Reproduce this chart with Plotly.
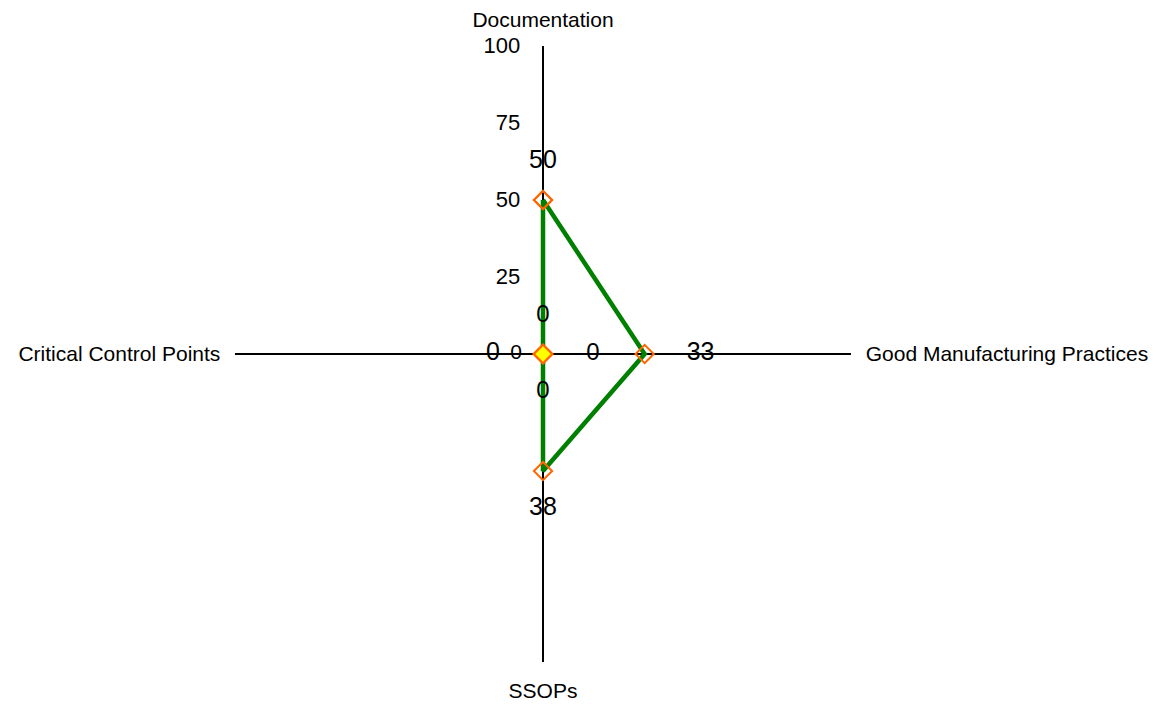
import plotly.graph_objects as go

# ---- data ----
categories = ["Documentation", "Good Manufacturing Practices", "SSOPs", "Critical Control Points"]
series_a = [50, 33, 38, 0]
series_b = [0, 0, 0, 0]
radial_ticks = [25, 50, 75, 100]

FONT = "Liberation Sans, Arial, sans-serif"
W, H = 1163, 704
CX, CY, R = 535, 346, 308          # domain centre (compensated) / radius in px
px_per_unit = R / 100.0

fig = go.Figure()

closed = lambda v: v + v[:1]
cats_closed = closed(categories)

fig.add_trace(go.Scatterpolar(
    r=closed(series_a), theta=cats_closed, mode="lines+markers",
    line=dict(color="#008000", width=4.5),
    marker=dict(symbol="diamond-open", size=14, color="#FF6600", line=dict(width=2, color="#FF6600")),
    showlegend=False, hoverinfo="skip"))

fig.add_trace(go.Scatterpolar(
    r=closed(series_b), theta=cats_closed, mode="lines+markers",
    line=dict(color="#FF6600", width=2),
    marker=dict(symbol="diamond", size=14, color="#FFFF00", line=dict(width=2, color="#FF6600")),
    showlegend=False, hoverinfo="skip"))

# data labels, placed outward from each point by a pixel offset
off_a = [38, 56, 38, 50]
off_b = [38, 50, 38, 27]
size_a = [25, 25, 25, 25]
size_b = [24, 24, 24, 21]
fig.add_trace(go.Scatterpolar(
    r=[v + o / px_per_unit for v, o in zip(series_a, off_a)] + [v + o / px_per_unit for v, o in zip(series_b, off_b)],
    theta=categories + categories, mode="text",
    text=[str(v) for v in series_a] + [str(v) for v in series_b],
    textposition="middle center",
    textfont=dict(family=FONT, size=size_a + size_b, color="black"),
    showlegend=False, hoverinfo="skip"))

fig.update_layout(
    width=W, height=H,
    margin=dict(l=0, r=0, t=0, b=0),
    paper_bgcolor="white", plot_bgcolor="white",
    font=dict(family=FONT, color="black"),
    polar=dict(
        domain=dict(x=[(CX - R) / W, (CX + R) / W], y=[(H - CY - R) / H, (H - CY + R) / H]),
        bgcolor="white",
        radialaxis=dict(
            range=[0, 100], angle=90, tickangle=90,
            tickvals=radial_ticks, ticktext=[str(t) for t in radial_ticks],
            side="counterclockwise", layer="below traces",
            showgrid=False, showline=True, linecolor="black", linewidth=2,
            ticks="outside", ticklen=14, tickcolor="rgba(0,0,0,0)",
            tickfont=dict(family=FONT, size=22, color="black"),
        ),
        angularaxis=dict(
            direction="clockwise", rotation=90, layer="below traces",
            showgrid=True, gridcolor="black", gridwidth=2,
            showline=False,
            ticks="outside", ticklen=10, tickcolor="rgba(0,0,0,0)",
            tickfont=dict(family=FONT, size=21, color="black"),
        ),
    ),
)

fig.write_html("out.html")
